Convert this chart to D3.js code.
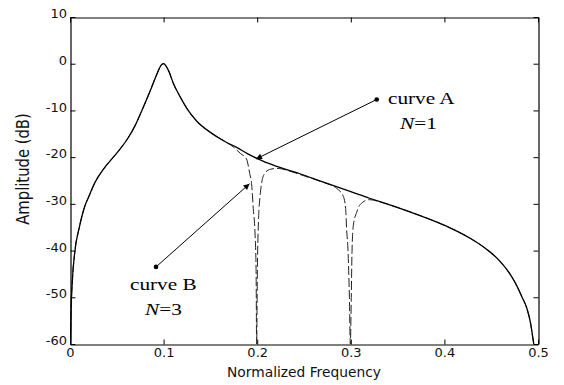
<!DOCTYPE html>
<html>
<head>
<meta charset="utf-8">
<script src="https://cdn.jsdelivr.net/npm/d3@7"></script>
<style>
  html, body { margin: 0; padding: 0; background: #fff; }
  svg { display: block; }
</style>
</head>
<body>
<svg id="chart" width="564" height="385"></svg>
<script>
// ---- data ----
const freqA = [0.0005, 0.001, 0.0025, 0.005, 0.01, 0.016, 0.02, 0.0267, 0.0356, 0.045, 0.0534, 0.062, 0.0694, 0.0766, 0.0855, 0.0933, 0.097, 0.1, 0.103, 0.106, 0.11, 0.118, 0.125, 0.135, 0.15, 0.165, 0.178, 0.19, 0.2, 0.22, 0.245, 0.27, 0.3, 0.32, 0.34, 0.363, 0.392, 0.41, 0.427, 0.445, 0.459, 0.47, 0.477, 0.483, 0.488, 0.492, 0.4945, 0.4955];
const ampA  = [-60, -54, -46.5, -40.5, -35, -30.4, -28.5, -25.4, -22.6, -20.3, -18.3, -15.9, -13.3, -10.1, -5.9, -2, -0.4, 0, -0.6, -1.8, -4, -7.2, -9.6, -12.2, -14.7, -16.6, -17.9, -19.3, -20.3, -21.9, -23.5, -25.3, -27.4, -28.8, -30.1, -31.7, -33.9, -35.5, -37.3, -39.7, -42.2, -45, -47.4, -50, -52.3, -55.5, -58.7, -60];

const freqB = [0.0005, 0.001, 0.0025, 0.005, 0.01, 0.016, 0.02, 0.0267, 0.0356, 0.045, 0.0534, 0.062, 0.0694, 0.0766, 0.0855, 0.0933, 0.097, 0.1, 0.103, 0.106, 0.11, 0.118, 0.125, 0.135, 0.15, 0.165, 0.175, 0.182, 0.1886, 0.192, 0.194, 0.1958, 0.1976, 0.1988, 0.1994, 0.2002, 0.2015, 0.203, 0.2048, 0.208, 0.214, 0.221, 0.235, 0.25, 0.2706, 0.285, 0.292, 0.2945, 0.2955, 0.297, 0.2985, 0.2995, 0.3005, 0.3013, 0.3027, 0.3063, 0.3098, 0.32, 0.33, 0.34, 0.363, 0.392, 0.41, 0.427, 0.445, 0.459, 0.47, 0.477, 0.483, 0.488, 0.492, 0.4945, 0.4955];
const ampB  = [-60, -54, -46.5, -40.5, -35, -30.4, -28.5, -25.4, -22.6, -20.3, -18.3, -15.9, -13.3, -10.1, -5.9, -2, -0.4, 0, -0.6, -1.8, -4, -7.2, -9.6, -12.2, -14.7, -16.6, -17.9, -19.2, -20.4, -23.5, -25.7, -31, -36, -44, -60, -44, -33, -28.5, -25.5, -23.5, -22.6, -22.4, -23.0, -24.0, -25.4, -26.7, -28.4, -31, -35.3, -40, -50, -60, -50, -40.2, -34.6, -31.8, -30.2, -29.1, -29.5, -30.1, -31.7, -33.9, -35.5, -37.3, -39.7, -42.2, -45, -47.4, -50, -52.3, -55.5, -58.7, -60];

const xTicks = [0, 0.1, 0.2, 0.3, 0.4, 0.5];
const xTickLabels = ["0", "0.1", "0.2", "0.3", "0.4", "0.5"];
const yTicks = [-60, -50, -40, -30, -20, -10, 0, 10];
const yTickLabels = ["-60", "-50", "-40", "-30", "-20", "-10", "0", "10"];

const xTitle = "Normalized Frequency";
const yTitle = "Amplitude (dB)";

// annotations: label lines, label anchor, dot position, arrow tip (data units)
const annLabels = ["curve A", "curve B"];
const annN      = ["=1", "=3"];
const annTextF  = [0.3397, 0.0641];
const annTextDB = [-8.7, -48.4];
const annNF     = [0.3526, 0.0801];
const annNDB    = [-14.0, -53.8];
const annDotF   = [0.3277, 0.0919];
const annDotDB  = [-7.66, -43.5];
const annTipF   = [0.1987, 0.1918];
const annTipDB  = [-20.4, -25.7];

// ---- layout ----
const svg = d3.select("#chart");
const L = 70, R = 538, T = 17, B = 344;

const x = d3.scaleLinear().domain([0, 0.5]).range([L, R]);
const y = d3.scaleLinear().domain([-60, 10]).range([B, T]);

svg.append("rect").attr("width", 564).attr("height", 385).attr("fill", "#fff");

svg.append("defs").append("clipPath").attr("id", "clip")
  .append("rect").attr("x", L).attr("y", T).attr("width", R - L).attr("height", B - T);

const tickFont = "'DejaVu Sans', sans-serif";

// bottom axis
const gx = svg.append("g").attr("transform", `translate(0,${B + 0.5})`)
  .call(d3.axisBottom(x).tickValues(xTicks).tickFormat((d, i) => xTickLabels[i])
        .tickSizeInner(-5).tickSizeOuter(0).tickPadding(3.5));
// top axis
const gxt = svg.append("g").attr("transform", `translate(0,${T + 0.5})`)
  .call(d3.axisTop(x).tickValues(xTicks).tickFormat("")
        .tickSizeInner(-5).tickSizeOuter(0));
// left axis
const gy = svg.append("g").attr("transform", `translate(${L + 0.5},0)`)
  .call(d3.axisLeft(y).tickValues(yTicks).tickFormat((d, i) => yTickLabels[i])
        .tickSizeInner(-5).tickSizeOuter(0).tickPadding(3.5));
// right axis
const gyr = svg.append("g").attr("transform", `translate(${R + 0.5},0)`)
  .call(d3.axisRight(y).tickValues(yTicks).tickFormat("")
        .tickSizeInner(-5).tickSizeOuter(0));

[gx, gxt, gy, gyr].forEach(g => {
  g.selectAll("path.domain").attr("stroke", "#000").attr("stroke-width", 1.2);
  g.selectAll(".tick line").attr("stroke", "#000").attr("stroke-width", 1);
  g.selectAll(".tick text").attr("fill", "#111")
    .style("font-family", tickFont).style("font-size", "13px");
});
gy.selectAll(".tick text").attr("dy", "0.05em");

// axis titles
svg.append("text")
  .attr("x", (L + R) / 2).attr("y", 377)
  .attr("text-anchor", "middle")
  .style("font-family", tickFont).style("font-size", "13.8px")
  .attr("fill", "#111")
  .text(xTitle);

svg.append("text")
  .attr("transform", `translate(29,169) scale(1.2,1) rotate(-90)`)
  .attr("text-anchor", "middle")
  .style("font-family", tickFont).style("font-size", "14.8px")
  .attr("fill", "#111")
  .text(yTitle);

// curves
const plot = svg.append("g").attr("clip-path", "url(#clip)");
const line = d3.line().x(d => x(d[0])).y(d => y(d[1])).curve(d3.curveMonotoneX);

plot.append("path")
  .datum(freqB.map((f, i) => [f, ampB[i]]))
  .attr("d", line)
  .attr("fill", "none").attr("stroke", "#222").attr("stroke-width", 1)
  .attr("stroke-dasharray", "9,3");

plot.append("path")
  .datum(freqA.map((f, i) => [f, ampA[i]]))
  .attr("d", line)
  .attr("fill", "none").attr("stroke", "#000").attr("stroke-width", 1.3);

// annotations
const defs = svg.select("defs");
defs.append("marker").attr("id", "arrow")
  .attr("viewBox", "0 0 10 10").attr("refX", 10).attr("refY", 5)
  .attr("markerWidth", 9).attr("markerHeight", 6).attr("markerUnits", "userSpaceOnUse")
  .attr("orient", "auto")
  .append("path").attr("d", "M0,0 L10,5 L0,10 Z").attr("fill", "#000");

const serif = "'Liberation Serif', 'Times New Roman', serif";
annLabels.forEach((lab, i) => {
  svg.append("line")
    .attr("x1", x(annDotF[i])).attr("y1", y(annDotDB[i]))
    .attr("x2", x(annTipF[i])).attr("y2", y(annTipDB[i]))
    .attr("stroke", "#000").attr("stroke-width", 1)
    .attr("marker-end", "url(#arrow)");
  svg.append("circle")
    .attr("cx", x(annDotF[i])).attr("cy", y(annDotDB[i])).attr("r", 2.3)
    .attr("fill", "#000");
  svg.append("text")
    .attr("transform", `translate(${x(annTextF[i])},${y(annTextDB[i])}) scale(1.25,1)`)
    .style("font-family", serif).style("font-size", "17px").attr("fill", "#000")
    .text(lab);
  const t = svg.append("text")
    .attr("transform", `translate(${x(annNF[i])},${y(annNDB[i])}) scale(1.25,1)`)
    .style("font-family", serif).style("font-size", "17px").attr("fill", "#000");
  t.append("tspan").style("font-style", "italic").text("N");
  t.append("tspan").text(annN[i]);
});
</script>
</body>
</html>
